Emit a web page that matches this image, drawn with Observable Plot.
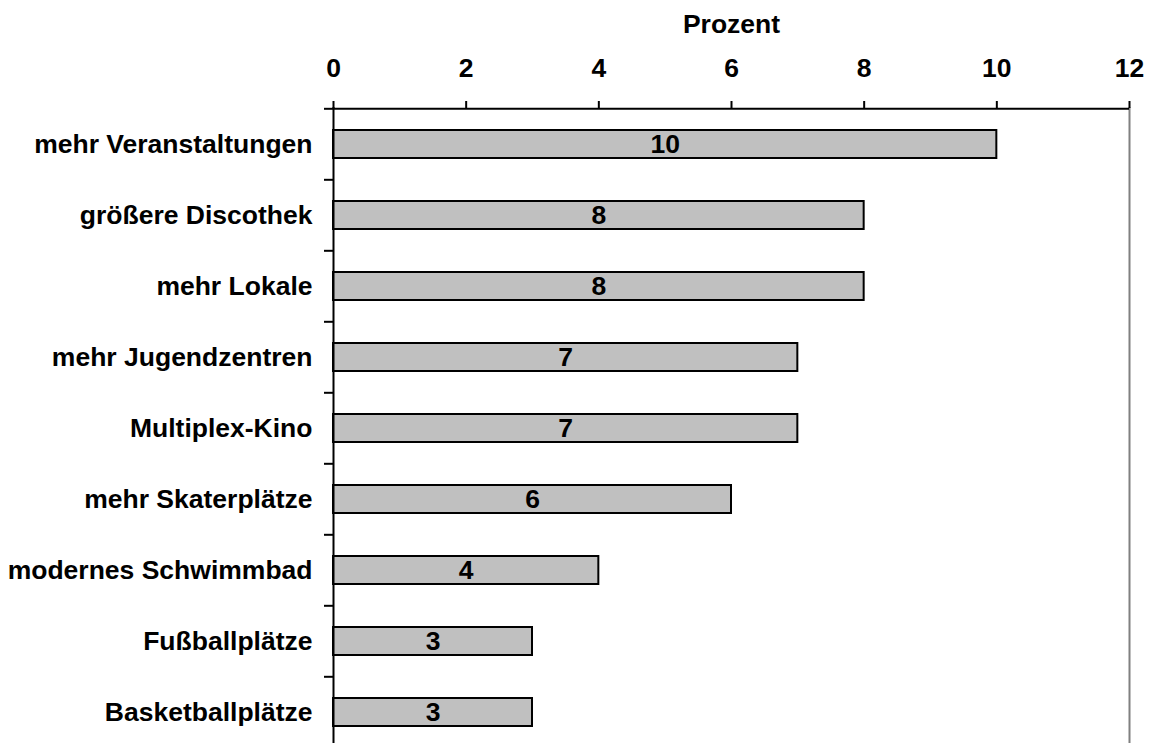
<!DOCTYPE html>
<html>
<head>
<meta charset="utf-8">
<script src="https://cdn.jsdelivr.net/npm/d3@7"></script>
<script src="https://cdn.jsdelivr.net/npm/@observablehq/plot@0.6"></script>
<style>
  html, body { margin: 0; padding: 0; background: #fff; }
  #chart svg { display: block; }
</style>
</head>
<body>
<div id="chart"></div>
<script>
const categories = [
  "mehr Veranstaltungen",
  "größere Discothek",
  "mehr Lokale",
  "mehr Jugendzentren",
  "Multiplex-Kino",
  "mehr Skaterplätze",
  "modernes Schwimmbad",
  "Fußballplätze",
  "Basketballplätze"
];
const values = [10, 8, 8, 7, 7, 6, 4, 3, 3];
const xTicks = [0, 2, 4, 6, 8, 10, 12];
const axisTitle = "Prozent";

const data = categories.map((c, i) => ({cat: c, value: values[i]}));

const W = 1156, H = 743;
const mTop = 107, mLeft = 333, mRight = 27;
const step = 71.4;
const fs = 26.5;
const font = "'Liberation Sans', Arial, sans-serif";

const chart = Plot.plot({
  width: W,
  height: H,
  marginTop: mTop,
  marginLeft: mLeft,
  marginRight: mRight,
  marginBottom: 0,
  style: {fontFamily: font, fontSize: fs + "px", fontWeight: "bold", color: "#000", background: "#fff"},
  x: {domain: [0, 12], axis: null},
  y: {domain: categories, range: [mTop, mTop + step * categories.length], paddingInner: 0.6, paddingOuter: 0.3, axis: null},
  marks: [
    Plot.ruleX([12], {stroke: "#808080", strokeWidth: 2}),
    Plot.barX(data, {x: "value", y: "cat", fill: "#c0c0c0", stroke: "#000", strokeWidth: 2}),
    Plot.text(data, {x: d => d.value / 2, y: "cat", text: d => String(d.value), fontSize: fs, fontWeight: "bold", fill: "#000"}),
    Plot.ruleX([0], {stroke: "#000", strokeWidth: 2}),
    Plot.ruleY([categories[0]], {y: d => d, dy: -step / 2, stroke: "#000", strokeWidth: 2}),
    Plot.axisX({anchor: "top", ticks: xTicks, tickSize: 7, tickPadding: 24, strokeWidth: 2, fontSize: fs, fontWeight: "bold", label: null}),
    Plot.axisY({anchor: "left", tickSize: 9, tickFormat: () => "", dy: -step / 2, strokeWidth: 2, label: null}),
    Plot.axisY({anchor: "left", tickSize: 0, tickPadding: 21, fontSize: fs, fontWeight: "bold", label: null}),
    Plot.text([axisTitle], {x: [6], frameAnchor: "top", lineAnchor: "middle", dy: -83, text: d => d, fontSize: fs, fontWeight: "bold", fill: "#000"})
  ]
});

document.getElementById("chart").appendChild(chart);
</script>
</body>
</html>
